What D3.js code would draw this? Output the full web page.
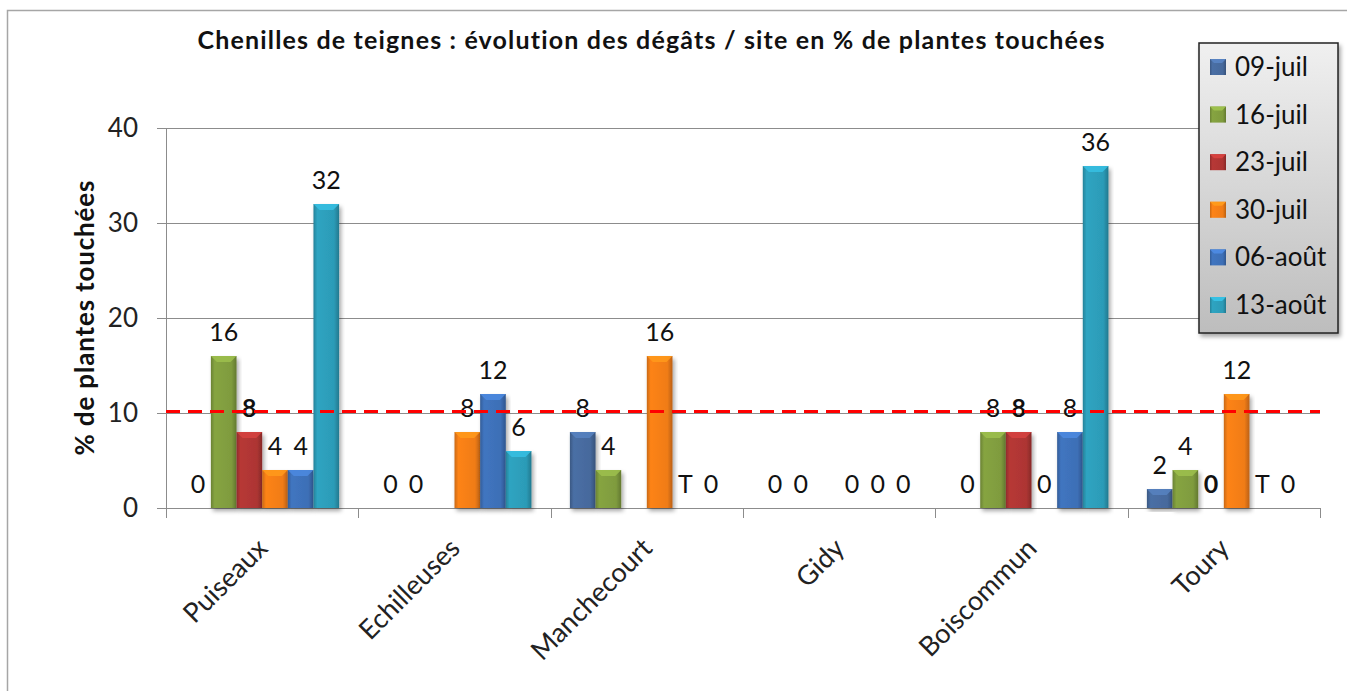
<!DOCTYPE html>
<html>
<head>
<meta charset="utf-8">
<script src="https://cdn.jsdelivr.net/npm/d3@7"></script>
<style>
  body { margin: 0; background: #fff; }
  svg { display: block; font-family: Lato, "Open Sans", sans-serif; font-variant-ligatures: none; }
</style>
</head>
<body>
<script>
// Sites and sampling dates
const sites = ["Puiseaux", "Echilleuses", "Manchecourt", "Gidy", "Boiscommun", "Toury"];
const dates = ["09-juil", "16-juil", "23-juil", "30-juil", "06-août", "13-août"];

// % of plants touched, one array per date (null = not observed, "T" = trace)
const juil09 = [0, 0, 8, 0, 0, 2];
const juil16 = [16, 0, 4, 0, 8, 4];
const juil23 = [8, null, null, null, 8, 0];
const juil30 = [4, 8, 16, 0, 0, 12];
const aout06 = [4, 12, "T", 0, 8, "T"];
const aout13 = [32, 6, 0, 0, 36, 0];

const yTicks = [0, 10, 20, 30, 40];
const threshold = 10;

const colors = ["#46699c", "#7f9b3e", "#ad3533", "#f07c16", "#3d6fb6", "#2c9bb7"];

const seriesValues = [juil09, juil16, juil23, juil30, aout06, aout13];

const width = 1347, height = 691;
const margin = {left: 166, right: 27, top: 128, bottom: 183};

const svg = d3.select("body")
  .append("svg")
  .attr("width", width)
  .attr("height", height);

const defs = svg.append("defs");

// Bevel-ish gradients for each series
colors.forEach((c, i) => {
  const g = defs.append("linearGradient")
    .attr("id", `grad${i}`)
    .attr("x1", "0%").attr("x2", "100%")
    .attr("y1", "0%").attr("y2", "0%");
  const base = d3.color(c);
  g.append("stop").attr("offset", "0%").attr("stop-color", base.darker(0.5));
  g.append("stop").attr("offset", "15%").attr("stop-color", base.brighter(0.15));
  g.append("stop").attr("offset", "80%").attr("stop-color", base);
  g.append("stop").attr("offset", "100%").attr("stop-color", base.darker(0.7));
});

const legendGrad = defs.append("linearGradient")
  .attr("id", "legendGrad")
  .attr("x1", "0%").attr("x2", "0%")
  .attr("y1", "0%").attr("y2", "100%");
legendGrad.append("stop").attr("offset", "0%").attr("stop-color", "#f0f0f0");
legendGrad.append("stop").attr("offset", "100%").attr("stop-color", "#bdbdbd");

const shadow = defs.append("filter").attr("id", "shadow")
  .attr("x", "-20%").attr("y", "-20%").attr("width", "140%").attr("height", "140%");
shadow.append("feDropShadow")
  .attr("dx", 2).attr("dy", 3).attr("stdDeviation", 2)
  .attr("flood-color", "#000").attr("flood-opacity", 0.35);

// Outer chart border
svg.append("rect")
  .attr("x", 7.5).attr("y", 10.5)
  .attr("width", width + 20).attr("height", height + 20)
  .attr("fill", "none")
  .attr("stroke", "#a6a6a6")
  .attr("stroke-width", 1.5);

// Scales
const x0 = d3.scaleBand()
  .domain(sites)
  .range([margin.left, width - margin.right]);

const x1 = d3.scaleBand()
  .domain(dates)
  .range([x0.bandwidth() * 0.1, x0.bandwidth() * 0.9]);

const y = d3.scaleLinear()
  .domain([0, 40])
  .range([height - margin.bottom, margin.top]);

// Gridlines
svg.append("g")
  .selectAll("line")
  .data(yTicks.slice(1))
  .join("line")
  .attr("x1", margin.left)
  .attr("x2", width - margin.right)
  .attr("y1", d => Math.round(y(d)) + 0.5)
  .attr("y2", d => Math.round(y(d)) + 0.5)
  .attr("stroke", "#8c8c8c")
  .attr("stroke-width", 1);

// Y axis
const yAxis = svg.append("g")
  .attr("transform", `translate(${margin.left},0)`)
  .call(d3.axisLeft(y).tickValues(yTicks).tickSize(9).tickPadding(19));
yAxis.select(".domain").attr("stroke", "#8c8c8c");
yAxis.selectAll(".tick line").attr("stroke", "#8c8c8c");
yAxis.selectAll(".tick text")
  .attr("font-size", 26)
  .attr("font-family", "Lato, sans-serif")
  .attr("fill", "#222");

// X axis with ticks at category boundaries
const xAxis = svg.append("g")
  .attr("transform", `translate(0,${y(0)})`);
xAxis.append("line")
  .attr("x1", margin.left - 9)
  .attr("x2", width - margin.right)
  .attr("y1", 0.5).attr("y2", 0.5)
  .attr("stroke", "#8c8c8c");
const boundaries = sites.map(s => x0(s)).concat([x0(sites[sites.length - 1]) + x0.bandwidth()]);
xAxis.selectAll(".bound")
  .data(boundaries)
  .join("line")
  .attr("class", "bound")
  .attr("x1", d => Math.round(d) + 0.5)
  .attr("x2", d => Math.round(d) + 0.5)
  .attr("y1", 0).attr("y2", 10)
  .attr("stroke", "#8c8c8c");
xAxis.selectAll(".cat")
  .data(sites)
  .join("text")
  .attr("class", "cat")
  .attr("transform", d => `translate(${x0(d) + x0.bandwidth() / 2 + 7},${42}) rotate(-45)`)
  .attr("text-anchor", "end")
  .attr("font-size", 27)
  .attr("fill", "#222")
  .text(d => d);

// Bars
const numeric = v => (v === "T" ? 0 : v);
const groups = svg.append("g")
  .selectAll("g")
  .data(sites)
  .join("g")
  .attr("transform", d => `translate(${x0(d)},0)`);

const cells = groups.selectAll("g")
  .data((site, si) => dates.map((date, di) => ({site, date, di, value: seriesValues[di][si]})))
  .join("g");

const barW = x1.bandwidth();
cells.filter(d => d.value !== null && numeric(d.value) > 0)
  .each(function (d) {
    const g = d3.select(this);
    const top = y(numeric(d.value));
    const h = y(0) - top;
    const bx = x1(d.date);
    g.append("rect")
      .attr("x", bx).attr("y", top)
      .attr("width", barW).attr("height", h)
      .attr("fill", `url(#grad${d.di})`)
      .attr("filter", "url(#shadow)");
    const bev = Math.min(6, h / 2);
    g.append("path")
      .attr("d", `M${bx},${top}L${bx + barW},${top}L${bx + barW - bev},${top + bev}L${bx + bev},${top + bev}Z`)
      .attr("fill", d3.color(colors[d.di]).brighter(0.6))
      .attr("opacity", 0.85);
  });

// Red threshold line
svg.append("line")
  .attr("x1", margin.left)
  .attr("x2", width - margin.right)
  .attr("y1", y(threshold) - 1.5)
  .attr("y2", y(threshold) - 1.5)
  .attr("stroke", "#ff0000")
  .attr("stroke-width", 3)
  .attr("stroke-dasharray", "14 8");

// Data labels
cells.filter(d => d.value !== null)
  .append("text")
  .attr("x", d => x1(d.date) + barW / 2)
  .attr("y", d => y(numeric(d.value)) - 15)
  .attr("text-anchor", "middle")
  .attr("font-size", 25)
  .attr("font-weight", d => (d.di === 2 ? "bold" : "normal"))
  .attr("fill", "#111")
  .text(d => d.value);

// Title
svg.append("text")
  .attr("x", 651)
  .attr("y", 49)
  .attr("text-anchor", "middle")
  .attr("font-size", 25)
  .attr("font-weight", "bold")
  .attr("fill", "#111")
  .attr("textLength", 907)
  .attr("lengthAdjust", "spacing")
  .text("Chenilles de teignes : évolution des dégâts / site en % de plantes touchées");

// Y axis title
svg.append("text")
  .attr("transform", "translate(94,318) rotate(-90)")
  .attr("text-anchor", "middle")
  .attr("font-size", 26)
  .attr("font-weight", "bold")
  .attr("fill", "#111")
  .attr("textLength", 275)
  .attr("lengthAdjust", "spacing")
  .text("% de plantes touchées");

// Legend
const legend = svg.append("g").attr("transform", "translate(1199,43)");
legend.append("rect")
  .attr("width", 139).attr("height", 290)
  .attr("fill", "url(#legendGrad)")
  .attr("stroke", "#222")
  .attr("stroke-width", 1.5)
  .attr("filter", "url(#shadow)");

const item = legend.selectAll(".item")
  .data(dates)
  .join("g")
  .attr("class", "item")
  .attr("transform", (d, i) => `translate(0,${24 + i * 47.6})`);
item.append("rect")
  .attr("x", 11).attr("y", -8)
  .attr("width", 16).attr("height", 16)
  .attr("fill", (d, i) => `url(#grad${i})`);
item.append("path")
  .attr("d", "M11,-8L27,-8L23,-4L15,-4Z")
  .attr("fill", (d, i) => d3.color(colors[i]).brighter(0.6));
item.append("text")
  .attr("x", 36)
  .attr("y", 9)
  .attr("font-size", 26)
  .attr("fill", "#111")
  .text(d => d);
</script>
</body>
</html>
